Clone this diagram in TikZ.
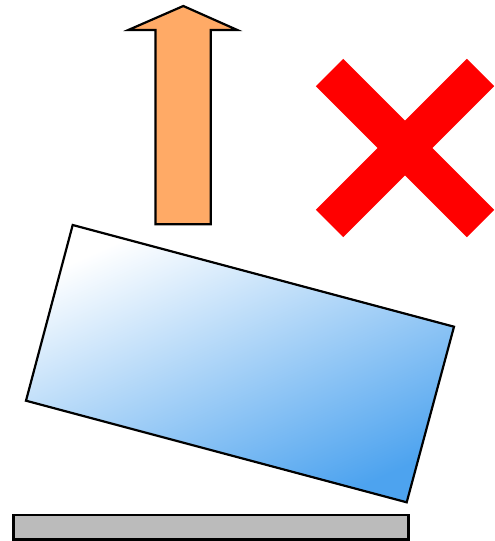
\documentclass[tikz,border=0pt]{standalone}
\usetikzlibrary{calc}
\definecolor{arroworange}{HTML}{FFAA66}
\definecolor{boxblue}{HTML}{4DA3EF}
\definecolor{floorgray}{HTML}{BBBBBB}
\definecolor{xred}{HTML}{FF0000}
\tikzset{
  outline/.style={draw=black, line width=2.2pt, line join=miter},
  crossbar/.style={draw=xred, line width=38.6pt, line cap=butt},
}
\begin{document}
\begin{tikzpicture}[x=1pt,y=-1pt]
\useasboundingbox (0,0) rectangle (495,541);
% floor
\path[outline, fill=floorgray] (13.5,515) rectangle (408.5,539.5);
% tilted box
\coordinate (tl) at (72.7,225);
\coordinate (tr) at (454,326.7);
\coordinate (br) at (406.7,502.3);
\coordinate (bl) at (26,400.7);
\shade[top color=white, bottom color=boxblue, shading angle=24] (tl) -- (tr) -- (br) -- (bl) -- cycle;
\draw[outline] (tl) -- (tr) -- (br) -- (bl) -- cycle;
% up arrow
\path[outline, fill=arroworange]
  (155.5,224.3) -- (155.5,30) -- (128.3,30) -- (183.3,6) -- (237.3,30)
  -- (210.8,30) -- (210.8,224.3) -- cycle;
% red cross
\coordinate (xa) at (329.5,72.5);
\coordinate (xb) at (480.5,223.5);
\coordinate (xc) at (480.5,72.5);
\coordinate (xd) at (329.5,223.5);
\draw[crossbar] (xa) -- (xb);
\draw[crossbar] (xc) -- (xd);
\end{tikzpicture}
\end{document}
